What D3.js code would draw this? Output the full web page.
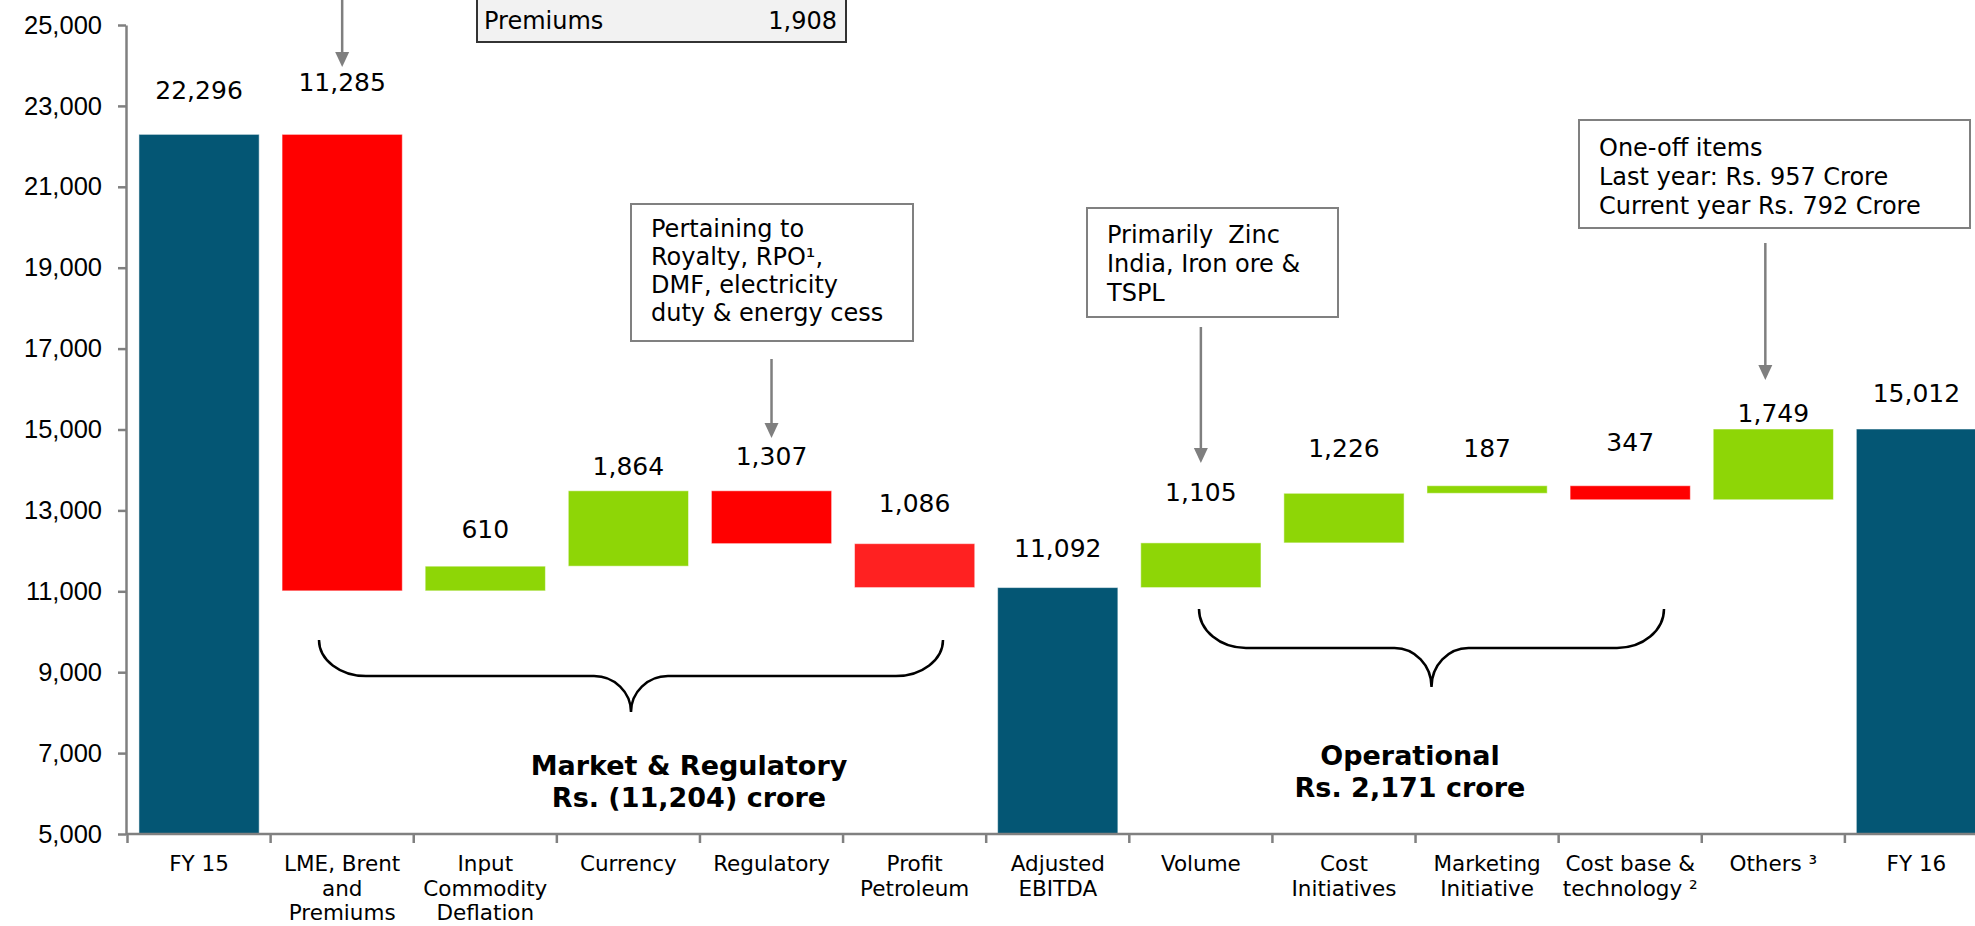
<!doctype html>
<html>
<head>
<meta charset="utf-8">
<title>EBITDA bridge FY15 to FY16</title>
<script src="https://d3js.org/d3.v7.min.js"></script>
<style>
  body { margin: 0; background: #fff; }
  svg { display: block; font-family: "DejaVu Sans", Verdana, sans-serif; }
  .axis path, .axis line { stroke: #808080; stroke-width: 2.5; fill: none; }
  .axis text { font-size: 25.5px; fill: #000; }
  .cat { font-size: 21.5px; fill: #000; text-anchor: middle; }
  .val { font-size: 25px; fill: #000; text-anchor: middle; }
  .note { font-size: 24px; fill: #000; white-space: pre; }
  .group { font-size: 27px; font-weight: bold; fill: #000; text-anchor: middle; }
</style>
</head>
<body>
<script>
// ---- data ----
var categories = ["FY 15", "LME, Brent\nand\nPremiums", "Input\nCommodity\nDeflation", "Currency",
  "Regulatory", "Profit\nPetroleum", "Adjusted\nEBITDA", "Volume", "Cost\nInitiatives",
  "Marketing\nInitiative", "Cost base &\ntechnology \u00b2", "Others \u00b3", "FY 16"];
var values = [22296, -11285, 610, 1864, -1307, -1086, 11092, 1105, 1226, 187, -347, 1749, 15012];
var isTotal = [true, false, false, false, false, false, true, false, false, false, false, false, true];
var yTicks = [5000, 7000, 9000, 11000, 13000, 15000, 17000, 19000, 21000, 23000, 25000];

var groupLabels = [["Market & Regulatory", "Rs. (11,204) crore"], ["Operational", "Rs. 2,171 crore"]];
var notePremiums = ["Premiums", "1,908"];
var noteRegulatory = ["Pertaining to", "Royalty, RPO\u00b9,", "DMF, electricity", "duty & energy cess"];
var noteVolume = ["Primarily  Zinc", "India, Iron ore &", "TSPL"];
var noteOthers = ["One-off items", "Last year: Rs. 957 Crore", "Current year Rs. 792 Crore"];

// ---- layout ----
var width = 1975, height = 926;
var colors = { total: "#045674", up: "#8ed606", down: "#ff0000" };
var colorOverride = { "Profit\nPetroleum": "#ff2121" };
// how far each value label sits above its bar (px)
var labelLift = [35, 43, 28, 16, 26, 32, 31, 42, 36, 29, 35, 7, 27];

var svg = d3.select("body").append("svg").attr("width", width).attr("height", height);

var x = d3.scaleBand().domain(categories).range([127.5, 1988]).paddingInner(0.16).paddingOuter(0.08);
var y = d3.scaleLinear().domain([5000, 25000]).range([834, 25]);

// running totals for the waterfall
var bars = [], run = 0;
values.forEach(function(v, i) {
  var lo, hi, kind;
  if (isTotal[i]) {
    lo = y.domain()[0]; hi = v; run = v; kind = "total";
  } else {
    var start = run, end = run + v;
    lo = Math.min(start, end); hi = Math.max(start, end); run = end;
    kind = v >= 0 ? "up" : "down";
  }
  bars.push({ cat: categories[i], value: v, lo: lo, hi: hi, kind: kind, lift: labelLift[i] });
});

// y axis
svg.append("g").attr("class", "axis")
  .attr("transform", "translate(126,0)")
  .call(d3.axisLeft(y).tickValues(yTicks).tickFormat(d3.format(",")).tickSize(8).tickSizeOuter(0).tickPadding(16));

// bars
svg.selectAll(".bar").data(bars).enter().append("rect")
  .attr("class", "bar")
  .attr("x", function(d) { return x(d.cat); })
  .attr("width", x.bandwidth())
  .attr("y", function(d) { return y(d.hi); })
  .attr("height", function(d) { return y(d.lo) - y(d.hi); })
  .attr("fill", function(d) { return colorOverride[d.cat] || colors[d.kind]; })
  .attr("stroke", "rgba(255,255,255,0.5)").attr("stroke-width", 1);

// x axis baseline and boundary ticks
var xg = svg.append("g").attr("class", "axis");
xg.append("line").attr("x1", 126).attr("x2", width).attr("y1", 834).attr("y2", 834);
xg.selectAll(".xt").data(categories).enter().append("line")
  .attr("x1", function(d) { return x(d) + x.bandwidth() / 2 - x.step() / 2; })
  .attr("x2", function(d) { return x(d) + x.bandwidth() / 2 - x.step() / 2; })
  .attr("y1", 834).attr("y2", 843);

// category labels
svg.selectAll(".cat").data(categories).enter().append("text")
  .attr("class", "cat")
  .attr("transform", function(d) { return "translate(" + (x(d) + x.bandwidth() / 2) + ",871)"; })
  .each(function(d) {
    var t = d3.select(this);
    d.split("\n").forEach(function(line, k) {
      t.append("tspan").attr("x", 0).attr("y", k * 24.5).text(line);
    });
  });

// value labels
svg.selectAll(".val").data(bars).enter().append("text")
  .attr("class", "val")
  .attr("x", function(d) { return x(d.cat) + x.bandwidth() / 2; })
  .attr("y", function(d) { return y(d.hi) - d.lift; })
  .text(function(d) { return d3.format(",")(Math.abs(d.value)); });

// braces
function bracePath(x0, x1, yTop, yMid, yTip) {
  var cx = (x0 + x1) / 2, rx = 47, ry = yMid - yTop, cr = 37, tr = yTip - yMid, k = 0.552;
  return "M" + x0 + "," + yTop +
    " C" + x0 + "," + (yTop + ry * k) + " " + (x0 + rx * (1 - k)) + "," + yMid + " " + (x0 + rx) + "," + yMid +
    " L" + (cx - cr) + "," + yMid +
    " C" + (cx - cr * (1 - k)) + "," + yMid + " " + cx + "," + (yTip - tr * k) + " " + cx + "," + yTip +
    " C" + cx + "," + (yTip - tr * k) + " " + (cx + cr * (1 - k)) + "," + yMid + " " + (cx + cr) + "," + yMid +
    " L" + (x1 - rx) + "," + yMid +
    " C" + (x1 - rx * (1 - k)) + "," + yMid + " " + x1 + "," + (yTop + ry * k) + " " + x1 + "," + yTop;
}
svg.append("path").attr("d", bracePath(319, 943, 640, 676, 712))
  .attr("fill", "none").attr("stroke", "#000").attr("stroke-width", 2.5);
svg.append("path").attr("d", bracePath(1199, 1664, 609, 648, 687))
  .attr("fill", "none").attr("stroke", "#000").attr("stroke-width", 2.5);

// group labels
[[689, 775], [1410, 765]].forEach(function(p, i) {
  var t = svg.append("text").attr("class", "group").attr("x", p[0]).attr("y", p[1]);
  groupLabels[i].forEach(function(line, k) {
    t.append("tspan").attr("x", p[0]).attr("dy", k === 0 ? 0 : 32).text(line);
  });
});

// annotation boxes
function noteBox(x0, y0, w, h, lines, tx, ty, lh, fill, stroke) {
  svg.append("rect").attr("x", x0).attr("y", y0).attr("width", w).attr("height", h)
    .attr("fill", fill).attr("stroke", stroke).attr("stroke-width", 2);
  var t = svg.append("text").attr("class", "note").attr("xml:space", "preserve");
  lines.forEach(function(line, k) {
    t.append("tspan").attr("x", tx).attr("y", ty + k * lh).text(line);
  });
}
noteBox(477, -20, 369, 62, [notePremiums[0]], 484, 29, 0, "#f2f2f2", "#333");
svg.append("text").attr("class", "note").attr("x", 837).attr("y", 29).attr("text-anchor", "end").text(notePremiums[1]);
noteBox(631, 204, 282, 137, noteRegulatory, 651, 237, 28, "#fff", "#808080");
noteBox(1087, 208, 251, 109, noteVolume, 1107, 243, 29, "#fff", "#808080");
noteBox(1579, 120, 391, 108, noteOthers, 1599, 156, 29, "#fff", "#808080");

// arrows pointing at bars
function arrow(cat, dx, y0, y1) {
  var ax = x(cat) + x.bandwidth() / 2 + dx;
  svg.append("line").attr("x1", ax).attr("x2", ax).attr("y1", y0).attr("y2", y1 - 12)
    .attr("stroke", "#7f7f7f").attr("stroke-width", 2.5);
  svg.append("path").attr("d", "M" + (ax - 7) + "," + (y1 - 15) + " L" + (ax + 7) + "," + (y1 - 15) + " L" + ax + "," + y1 + "Z")
    .attr("fill", "#7f7f7f");
}
arrow(categories[1], 0, 0, 67);
arrow(categories[4], 0, 359, 438);
arrow(categories[7], 0, 327, 463);
arrow(categories[11], -8, 243, 380);
</script>
</body>
</html>
